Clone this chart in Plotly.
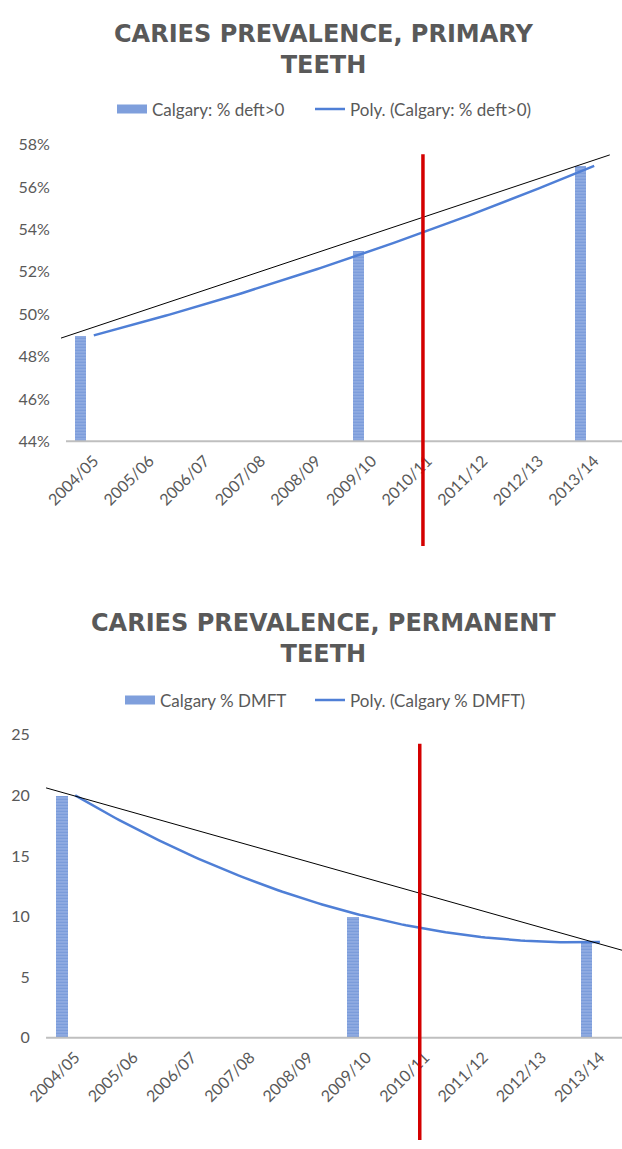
import numpy as np
import plotly.graph_objects as go

# ---------------- data ----------------
categories = ["2004/05", "2005/06", "2006/07", "2007/08", "2008/09",
              "2009/10", "2010/11", "2011/12", "2012/13", "2013/14"]

primary_years = ["2004/05", "2009/10", "2013/14"]
primary_values = [0.49, 0.53, 0.57]          # Calgary: % deft>0

permanent_years = ["2004/05", "2009/10", "2013/14"]
permanent_values = [20, 10, 7.9]             # Calgary % DMFT

# hand-drawn straight guide lines (endpoints in category units / axis units)
primary_guide_x = [-0.59, 9.28]
primary_guide_y = [0.4887, 0.5752]
permanent_guide_x = [-0.5, 9.38]
permanent_guide_y = [20.62, 7.22]

# red vertical marker (category position, near 2010/11)
marker_pos_primary = 5.92
marker_pos_permanent = 5.91

primary_ticks = [0.44, 0.46, 0.48, 0.50, 0.52, 0.54, 0.56, 0.58]
permanent_ticks = [0, 5, 10, 15, 20, 25]

# ---------------- styling ----------------
GRAY = "#595959"
AXIS_GRAY = "#bfbfbf"
BAR_BG = "#94aee2"
BAR_FG = "#5a82cf"
BAR_SWATCH = "#7f9fdc"
TREND = "#4f7fd6"
RED = "#d40000"
FONT = "Lato"

def idx(labels):
    return [categories.index(c) for c in labels]

def poly_curve(labels, values):
    xs = np.array(idx(labels), dtype=float)
    coef = np.polyfit(xs, values, 2)
    xx = np.linspace(xs.min(), xs.max(), 120)
    return xx, np.polyval(coef, xx)

bar_marker = dict(color=BAR_BG, line=dict(width=0),
                  pattern=dict(shape="-", fgcolor=BAR_FG, bgcolor=BAR_BG,
                               size=3, solidity=0.45))

fig = go.Figure()

def add_chart(xa, ya, years, values, bar_name, poly_name, guide_x, guide_y,
              offset, leg_bar, leg_poly):
    # bars
    fig.add_trace(go.Bar(
        x=idx(years), y=values, name=bar_name, offset=offset, width=0.2,
        xaxis=xa, yaxis=ya, marker=bar_marker, showlegend=False,
        legendgroup=bar_name,
    ))
    # legend swatch for the bar series (wide rectangle like the original)
    fig.add_trace(go.Scatter(
        x=[None], y=[None], mode="lines", name=bar_name, legendgroup=bar_name,
        line=dict(color=BAR_SWATCH, width=9), xaxis=xa, yaxis=ya, legend=leg_bar,
    ))
    # polynomial trendline (order 2)
    px_, py_ = poly_curve(years, values)
    fig.add_trace(go.Scatter(
        x=px_, y=py_, mode="lines", name=poly_name,
        line=dict(color=TREND, width=2.5), xaxis=xa, yaxis=ya, legend=leg_poly,
    ))
    # hand-drawn straight line
    fig.add_trace(go.Scatter(
        x=guide_x, y=guide_y, mode="lines", showlegend=False,
        line=dict(color="black", width=1), xaxis=xa, yaxis=ya,
    ))

add_chart("x", "y", primary_years, primary_values, "Calgary: % deft>0",
          "Poly. (Calgary: % deft>0)", primary_guide_x, primary_guide_y,
          -0.34, "legend", "legend2")
add_chart("x2", "y2", permanent_years, permanent_values, "Calgary % DMFT",
          "Poly. (Calgary % DMFT)", permanent_guide_x, permanent_guide_y,
          -0.33, "legend3", "legend4")

H = 1149.0
W = 622.0
tickfont = dict(family=FONT, size=16, color=GRAY)

xcommon = dict(tickmode="array", tickvals=list(range(len(categories))),
               ticktext=categories, tickangle=-45, showgrid=False,
               zeroline=False, showline=False, ticks="outside", ticklen=3,
               tickcolor="rgba(0,0,0,0)", tickfont=tickfont, fixedrange=True)
ycommon = dict(showgrid=False, zeroline=False, showline=False,
               ticks="outside", ticklen=13, tickcolor="rgba(0,0,0,0)",
               tickfont=tickfont, anchor="free", fixedrange=True)

legend_common = dict(orientation="h", xanchor="left", yanchor="middle",
                     font=dict(family=FONT, size=17, color=GRAY),
                     bgcolor="rgba(0,0,0,0)", itemclick=False)

fig.update_layout(
    width=622, height=1149,
    margin=dict(l=0, r=0, t=0, b=0),
    paper_bgcolor="white", plot_bgcolor="white",
    bargap=0,
    xaxis=dict(domain=[0, 1], anchor="y", range=[-93.8 / 55.6, 528.2 / 55.6], **xcommon),
    yaxis=dict(domain=[1 - 438.5 / H, 1 - 137 / H], range=[0.44, 0.58],
               tickmode="array", tickvals=primary_ticks, tickformat=".0%",
               position=66 / W, **ycommon),
    xaxis2=dict(domain=[0, 1], anchor="y2", range=[-75.2 / 58.3, 546.8 / 58.3], **xcommon),
    yaxis2=dict(domain=[1 - 1045 / H, 1 - 737 / H], range=[0, 25],
                tickmode="array", tickvals=permanent_ticks,
                position=46 / W, **ycommon),
    legend=dict(x=112 / W, y=1 - 101 / H, **legend_common),
    legend2=dict(x=310 / W, y=1 - 101 / H, **legend_common),
    legend3=dict(x=120 / W, y=1 - 702 / H, **legend_common),
    legend4=dict(x=310 / W, y=1 - 702 / H, **legend_common),
    annotations=[
        dict(text="CARIES PREVALENCE, PRIMARY<br>TEETH", x=0.52, y=1 - 40 / H,
             xref="paper", yref="paper", xanchor="center", yanchor="middle",
             showarrow=False,
             font=dict(family="DejaVu Sans", size=24, color=GRAY, weight="bold")),
        dict(text="CARIES PREVALENCE, PERMANENT<br>TEETH", x=0.52, y=1 - 639 / H,
             xref="paper", yref="paper", xanchor="center", yanchor="middle",
             showarrow=False,
             font=dict(family="DejaVu Sans", size=24, color=GRAY, weight="bold")),
    ],
    shapes=[
        # baselines
        dict(type="line", xref="x", yref="y domain", x0=-0.5, x1=9.5, y0=0, y1=0,
             line=dict(color=AXIS_GRAY, width=2), layer="above"),
        dict(type="line", xref="x2", yref="y2 domain", x0=-0.5, x1=9.5, y0=0, y1=0,
             line=dict(color=AXIS_GRAY, width=2), layer="above"),
        # red markers
        dict(type="line", xref="x", yref="paper", x0=marker_pos_primary,
             x1=marker_pos_primary, y0=1 - 545 / H, y1=1 - 146.7 / H,
             line=dict(color=RED, width=3.5), layer="above"),
        dict(type="line", xref="x2", yref="paper", x0=marker_pos_permanent,
             x1=marker_pos_permanent, y0=0, y1=1 - 746 / H,
             line=dict(color=RED, width=3.5), layer="above"),
    ],
)

fig.write_html("out.html")
